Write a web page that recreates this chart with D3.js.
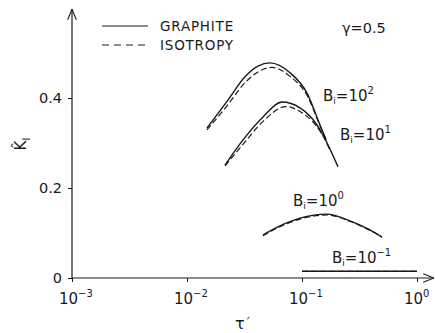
<!DOCTYPE html>
<html>
<head>
<meta charset="utf-8">
<script src="https://cdn.jsdelivr.net/npm/d3@7"></script>
<style>
  body { margin: 0; background: #fff; }
  svg { display: block; font-family: "DejaVu Sans", sans-serif; }
</style>
</head>
<body>
<svg id="chart" width="436" height="333"></svg>
<script>
// Dimensionless time tau' and normalised stress intensity factor K_I
const xTicks = [1e-3, 1e-2, 1e-1, 1];
const xTickExp = ["-3", "-2", "-1", "0"];
const yTicks = [0, 0.2, 0.4];
const yTickLabels = ["0", "0.2", "0.4"];

// Bi = 10^2
const bi2Tau      = [0.0149, 0.0228, 0.0319, 0.0414, 0.0527, 0.0787, 0.1105, 0.1435, 0.162];
const bi2Graphite = [0.333, 0.396, 0.447, 0.471, 0.478, 0.456, 0.411, 0.340, 0.307];
const bi2TauIso   = [0.0149, 0.0228, 0.0319, 0.0414, 0.0548, 0.0787, 0.1105, 0.1435, 0.162];
const bi2Isotropy = [0.329, 0.386, 0.434, 0.458, 0.468, 0.448, 0.406, 0.338, 0.307];

// Bi = 10^1
const bi1Tau      = [0.0214, 0.0307, 0.0458, 0.0670, 0.0961, 0.135, 0.152, 0.2056];
const bi1Graphite = [0.251, 0.307, 0.358, 0.391, 0.378, 0.340, 0.318, 0.247];
const bi1TauIso   = [0.0214, 0.0307, 0.0458, 0.0726, 0.0961, 0.135, 0.152, 0.175];
const bi1Isotropy = [0.249, 0.297, 0.348, 0.381, 0.370, 0.336, 0.316, 0.284];

// Bi = 10^0
const bi0Tau      = [0.0458, 0.0644, 0.0961, 0.165, 0.261, 0.375, 0.497];
const bi0Graphite = [0.096, 0.116, 0.133, 0.142, 0.127, 0.109, 0.091];
const bi0Isotropy = [0.094, 0.114, 0.131, 0.140, 0.126, 0.108, 0.091];

// Bi = 10^-1
const bim1Tau      = [0.1, 1.0];
const bim1Graphite = [0.015, 0.015];
const bim1Isotropy = [0.015, 0.015];

const svg = d3.select("#chart");
const ink = "#1a1a1a";

const x = d3.scaleLog().domain([1e-3, 1]).range([72, 417]);
const y = d3.scaleLinear().domain([0, 0.6]).range([278, 8]);

// Arrow marker for the axes
svg.append("defs").append("marker")
  .attr("id", "arrow").attr("viewBox", "0 0 10 10")
  .attr("refX", 10).attr("refY", 5)
  .attr("markerWidth", 9).attr("markerHeight", 9)
  .attr("orient", "auto-start-reverse")
  .append("path").attr("d", "M0,1 L10,5 L0,9")
  .attr("fill", "none").attr("stroke", ink).attr("stroke-width", 1);

// Axis lines with arrows
svg.append("line").attr("x1", x(1e-3)).attr("y1", y(0)).attr("x2", 434).attr("y2", y(0))
  .attr("stroke", ink).attr("stroke-width", 1.2).attr("marker-end", "url(#arrow)");
svg.append("line").attr("x1", x(1e-3)).attr("y1", y(0)).attr("x2", x(1e-3)).attr("y2", 9)
  .attr("stroke", ink).attr("stroke-width", 1.2).attr("marker-end", "url(#arrow)");

// X axis ticks
const xAxis = svg.append("g").attr("transform", `translate(0,${y(0)})`)
  .call(d3.axisBottom(x).tickValues(xTicks).tickSize(4).tickFormat(""));
xAxis.select(".domain").remove();
xAxis.selectAll(".tick line").attr("stroke", ink);

const xl = svg.append("g").selectAll("text").data(xTicks).join("text")
  .attr("x", d => x(d) - 13).attr("y", 304)
  .attr("font-size", 15).attr("fill", ink);
xl.append("tspan").text("10");
xl.append("tspan").attr("dy", -7).attr("font-size", 10).text((d, i) => xTickExp[i].replace("-", "−"));

// Y axis ticks
const yAxis = svg.append("g").attr("transform", `translate(${x(1e-3)},0)`)
  .call(d3.axisLeft(y).tickValues(yTicks).tickSize(4).tickFormat(""));
yAxis.select(".domain").remove();
yAxis.selectAll(".tick line").attr("stroke", ink);

svg.append("g").selectAll("text").data(yTicks).join("text")
  .attr("x", 62).attr("y", d => y(d) + 5)
  .attr("text-anchor", "end").attr("font-size", 14.5).attr("fill", ink)
  .text((d, i) => yTickLabels[i]);

// Axis titles
const yt = svg.append("text").attr("transform", "translate(26,144) rotate(-90)")
  .attr("text-anchor", "middle").attr("font-size", 15).attr("fill", ink);
yt.append("tspan").text("K\u0302");
yt.append("tspan").attr("dy", 4).attr("font-size", 10).text("I");

const xt = svg.append("text").attr("x", 235).attr("y", 329)
  .attr("font-size", 16).attr("fill", ink);
xt.append("tspan").text("τ");
xt.append("tspan").attr("dx", 2).attr("dy", -3).attr("font-size", 13).text("′");

// Curves
const line = d3.line().x(d => x(d[0])).y(d => y(d[1])).curve(d3.curveMonotoneX);
const zip = (a, b) => a.map((v, i) => [v, b[i]]);

const curves = [
  [bi2Tau, bi2Graphite, false], [bi2TauIso, bi2Isotropy, true],
  [bi1Tau, bi1Graphite, false], [bi1TauIso, bi1Isotropy, true],
  [bi0Tau, bi0Graphite, false], [bi0Tau, bi0Isotropy, true],
  [bim1Tau, bim1Graphite, false], [bim1Tau, bim1Isotropy, true]
];
svg.append("g").selectAll("path").data(curves).join("path")
  .attr("d", d => line(zip(d[0], d[1])))
  .attr("fill", "none").attr("stroke", ink)
  .attr("stroke-width", d => d[2] ? 1.2 : 1.4)
  .attr("stroke-dasharray", d => d[2] ? "6,3" : null);

// Biot number labels
const biLabels = [
  { x: 323, y: 101, e: "2" },
  { x: 340, y: 140, e: "1" },
  { x: 293, y: 206, e: "0" },
  { x: 332, y: 263, e: "−1" }
];
const bl = svg.append("g").selectAll("text").data(biLabels).join("text")
  .attr("x", d => d.x).attr("y", d => d.y)
  .attr("font-size", 15).attr("fill", ink);
bl.append("tspan").text("B");
bl.append("tspan").attr("dy", 3).attr("font-size", 9).text("i");
bl.append("tspan").attr("dy", -3).text("=10");
bl.append("tspan").attr("dy", -7).attr("font-size", 10).text(d => d.e);

// Legend
const legend = [
  { label: "GRAPHITE", dash: null, y: 26 },
  { label: "ISOTROPY", dash: "7,5", y: 45 }
];
const lg = svg.append("g");
lg.selectAll("line").data(legend).join("line")
  .attr("x1", 102).attr("x2", 148).attr("y1", d => d.y).attr("y2", d => d.y)
  .attr("stroke", ink).attr("stroke-width", 1.2)
  .attr("stroke-dasharray", d => d.dash);
lg.selectAll("text").data(legend).join("text")
  .attr("x", 160).attr("y", d => d.y + 5)
  .attr("font-size", 13.5).attr("letter-spacing", 0.8).attr("fill", ink)
  .text(d => d.label);

svg.append("text").attr("x", 342).attr("y", 33)
  .attr("font-size", 14.5).attr("fill", ink).text("γ=0.5");
</script>
</body>
</html>
